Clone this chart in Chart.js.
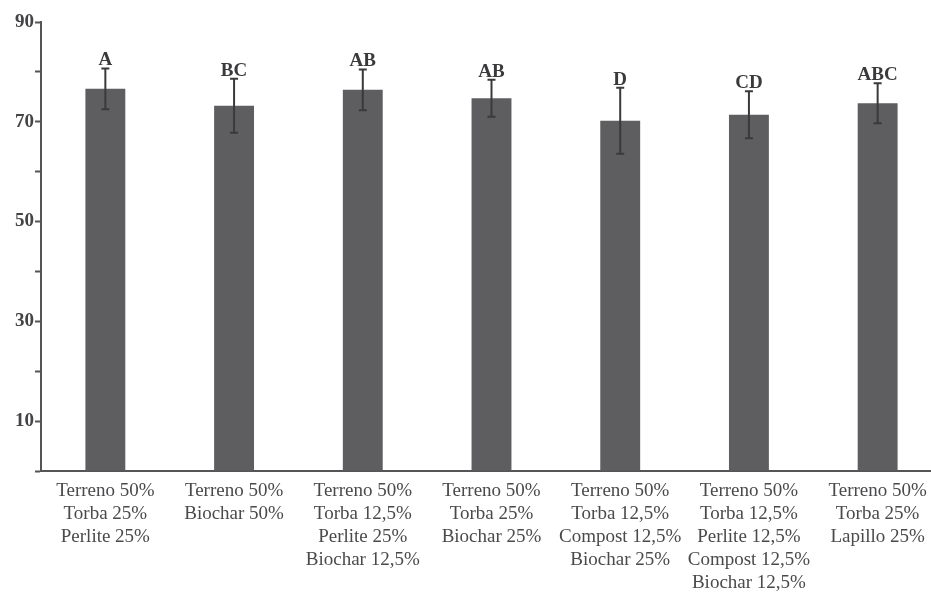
<!DOCTYPE html>
<html>
<head>
<meta charset="utf-8">
<style>
  html, body { margin: 0; padding: 0; background: #fff; overflow: hidden; }
  #wrap { width: 931px; height: 594px; overflow: hidden; }
  #c { display: block; }
</style>
<script src="https://cdn.jsdelivr.net/npm/chart.js@4/dist/chart.umd.min.js"></script>
</head>
<body>
<div id="wrap"><canvas id="c" width="942" height="594"></canvas></div>
<script>
// Substrate mixtures (one entry per bar, multi-line labels)
const categories = [
  ["Terreno 50%", "Torba 25%", "Perlite 25%"],
  ["Terreno 50%", "Biochar 50%"],
  ["Terreno 50%", "Torba 12,5%", "Perlite 25%", "Biochar 12,5%"],
  ["Terreno 50%", "Torba 25%", "Biochar 25%"],
  ["Terreno 50%", "Torba 12,5%", "Compost 12,5%", "Biochar 25%"],
  ["Terreno 50%", "Torba 12,5%", "Perlite 12,5%", "Compost 12,5%", "Biochar 12,5%"],
  ["Terreno 50%", "Torba 25%", "Lapillo 25%"]
];
// Mean values
const means = [76.6, 73.2, 76.4, 74.7, 70.2, 71.4, 73.7];
// Standard deviations (symmetric error bars)
const errors = [4.1, 5.4, 4.1, 3.7, 6.6, 4.7, 4.0];
// Significance letters
const letters = ["A", "BC", "AB", "AB", "D", "CD", "ABC"];
// Labelled y ticks
const yLabels = [10, 30, 50, 70, 90];

const serif = "'Liberation Serif', 'DejaVu Serif', serif";

const errorBarPlugin = {
  id: 'errorBars',
  afterDatasetsDraw(chart) {
    const ctx = chart.ctx;
    const meta = chart.getDatasetMeta(0);
    const y = chart.scales.y;
    ctx.save();
    ctx.strokeStyle = '#3a3a3c';
    ctx.lineWidth = 2;
    meta.data.forEach((bar, i) => {
      const x = bar.x;
      const top = y.getPixelForValue(means[i] + errors[i]);
      const bot = y.getPixelForValue(means[i] - errors[i]);
      ctx.beginPath();
      ctx.moveTo(x, top); ctx.lineTo(x, bot);
      ctx.moveTo(x - 4, top); ctx.lineTo(x + 4, top);
      ctx.moveTo(x - 4, bot); ctx.lineTo(x + 4, bot);
      ctx.stroke();
      ctx.fillStyle = '#3a3a3c';
      ctx.font = 'bold 19px ' + serif;
      ctx.textAlign = 'center';
      ctx.textBaseline = 'alphabetic';
      ctx.fillText(letters[i], x, top - 3);
    });
    ctx.restore();
  }
};

new Chart(document.getElementById('c'), {
  type: 'bar',
  data: {
    labels: categories,
    datasets: [{
      data: means,
      backgroundColor: '#5e5e60',
      borderWidth: 0,
      barPercentage: 0.31,
      categoryPercentage: 1.0
    }]
  },
  options: {
    responsive: false,
    animation: false,
    devicePixelRatio: 1,
    layout: { padding: { top: 22, right: 0, left: 0, bottom: 0 } },
    plugins: { legend: { display: false }, tooltip: { enabled: false } },
    scales: {
      x: {
        grid: { display: false, drawTicks: false },
        border: { display: true, color: '#555557', width: 2 },
        ticks: {
          color: '#4a4a4c',
          font: { family: serif, size: 19, lineHeight: 1.22 },
          padding: 8,
          maxRotation: 0,
          autoSkip: false
        },
        afterFit(s) { s.height = 123; }
      },
      y: {
        min: 0, max: 90,
        grid: { drawOnChartArea: false, drawTicks: true, tickLength: 6, color: '#555557', tickWidth: 2 },
        border: { display: true, color: '#555557', width: 2 },
        ticks: {
          stepSize: 10,
          color: '#444446',
          font: { family: serif, size: 19, weight: 'bold' },
          padding: 1,
          callback: (v) => yLabels.includes(v) ? String(v) : ''
        },
        afterFit(s) { s.width = 41; }
      }
    }
  },
  plugins: [errorBarPlugin]
});
</script>
</body>
</html>
